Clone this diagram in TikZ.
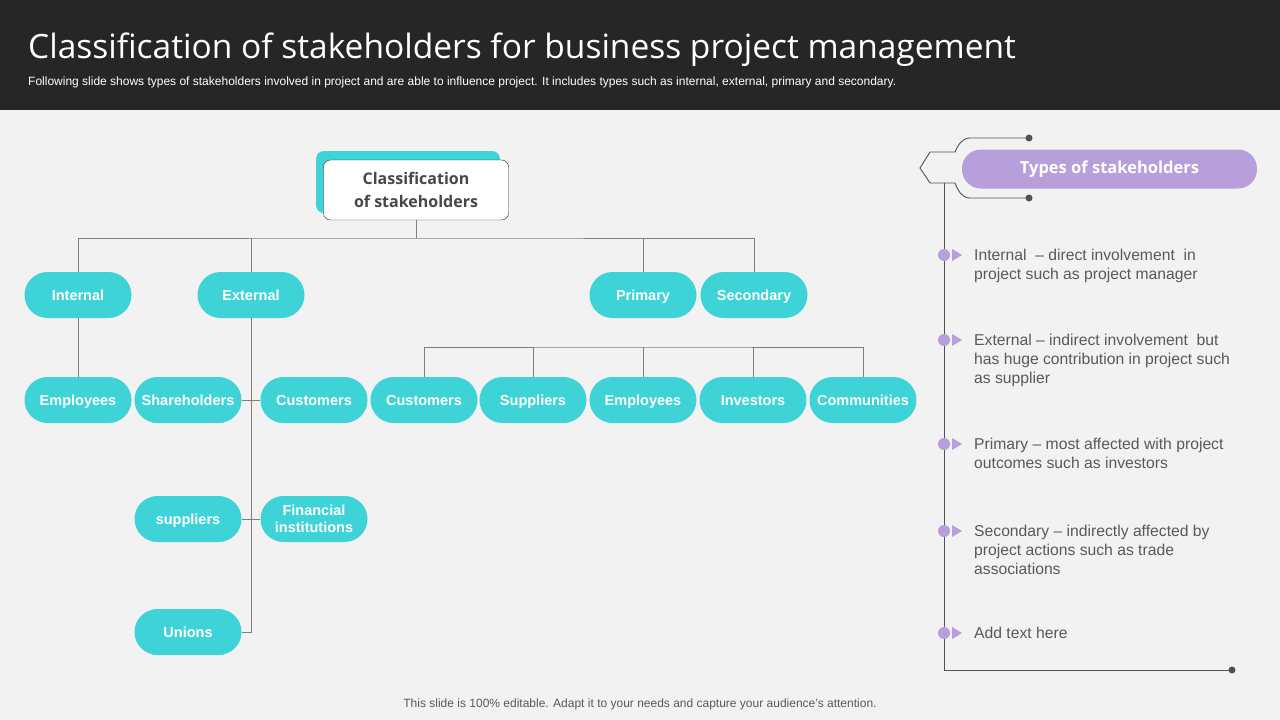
\documentclass[tikz,border=0pt]{standalone}
\usepackage{fontspec}
\setmainfont{Liberation Sans}
\newfontfamily\headfont{Open Sans}
\usetikzlibrary{positioning, arrows.meta}

\definecolor{teal1}{HTML}{3ED3D7}
\definecolor{lilac}{HTML}{B69FDA}
\definecolor{bgray}{HTML}{F2F2F2}
\definecolor{dark}{HTML}{262626}
\definecolor{txtgray}{HTML}{595959}
\definecolor{linegray}{HTML}{7F7F7F}

\begin{document}
\begin{tikzpicture}[x=1pt, y=-1pt,
    pill/.style={fill=teal1, text=white, rounded corners=23pt, minimum width=107pt, minimum height=46pt,
      inner sep=1pt, align=center, font=\fontsize{14.5}{17}\selectfont\bfseries},
    pillone/.style={pill, text height=10.5pt, text depth=0.5pt},
    link/.style={draw=linegray, line width=0.8pt},
    bullettext/.style={anchor=north west, align=left, text=txtgray, inner sep=0pt,
      font=\fontsize{15.7}{19}\selectfont}]
    % background and header
    \fill[bgray] (0,0) rectangle (1280,720);
    \fill[dark] (0,0) rectangle (1280,110);
    \useasboundingbox (0,0) rectangle (1280,720);
    \node[anchor=base west, text=white, inner sep=0pt, font=\headfont\fontsize{33.5}{38}\selectfont] (title) at (28,58)
      {Classification of stakeholders for business project management};
    \node[anchor=base west, text=white, inner sep=0pt, font=\fontsize{12}{14}\selectfont] (sub) at (28,85)
      {Following slide shows types of stakeholders involved in project and are able to influence project. It includes types such as internal, external, primary and secondary.};

    % root
    \fill[teal1, rounded corners=8pt] (316,151) rectangle (500,213);
    \node[draw=dark, fill=white, rounded corners=7pt, minimum width=185pt, minimum height=60pt, align=center,
      text=dark!85, font=\headfont\fontsize{16}{23}\selectfont\bfseries] (root) at (416,190)
      {Classification\\of stakeholders};

    % first level
    \node[pillone] (int) at (78,295) {Internal};
    \node[pillone] (ext) at (251,295) {External};
    \node[pillone] (pri) at (643,295) {Primary};
    \node[pillone] (sec) at (754,295) {Secondary};

    % second level
    \node[pillone] (emp1) at (78,400) {Employees};
    \node[pillone] (sha) at (188,400) {Shareholders};
    \node[pillone] (cus1) at (314,400) {Customers};
    \node[pillone] (sup1) at (188,519) {suppliers};
    \node[pill] (fin) at (314,519) {Financial\\institutions};
    \node[pillone] (uni) at (188,632) {Unions};
    \node[pillone] (cus2) at (424,400) {Customers};
    \node[pillone] (sup2) at (533,400) {Suppliers};
    \node[pillone] (emp2) at (643,400) {Employees};
    \node[pillone] (inv) at (753,400) {Investors};
    \node[pillone] (com) at (863,400) {Communities};

    % connectors
    \coordinate (bar) at (416,238);
    \draw[link] (root.south) -- (bar);
    \draw[link] (int.north) |- (bar) -| (sec.north);
    \draw[link] (ext.north) -- (ext.north |- bar);
    \draw[link] (pri.north) -- (pri.north |- bar);
    \draw[link] (int) -- (emp1);
    \coordinate (trunk) at (251,632);
    \draw[link] (ext.south) -- (trunk) -- (uni.east);
    \draw[link] (sha) -- (cus1);
    \draw[link] (sup1) -- (fin);
    \coordinate (bar2) at (643,347);
    \draw[link] (cus2.north) |- (bar2) -| (com.north);
    \foreach \n in {sup2, emp2, inv}
      \draw[link] (\n.north) -- (\n.north |- bar2);

    % right panel
    \node[fill=lilac, text=white, rounded corners=19pt, minimum width=295pt, minimum height=39pt,
      font=\headfont\fontsize{16.5}{20}\selectfont\bfseries] (types) at (1109.5,169) {Types of stakeholders};
    \coordinate (dtop) at (1029,138);
    \coordinate (dbot) at (1029,198);
    \draw[dark!80, line width=0.9pt] (dtop) -- (970,138) .. controls (962,138) and (958,145) .. (955,152) -- (930,152)
      -- (920,168) -- (930,183) -- (955,183) .. controls (958,191) and (962,198) .. (970,198) -- (dbot);
    \fill[dark!80] (dtop) circle (3.5pt) (dbot) circle (3.5pt);
    \coordinate (vtop) at (944,183);
    \coordinate (vbot) at (944,670);
    \coordinate (vend) at (1232,670);
    \draw[dark!80, line width=0.9pt] (vtop) -- (vbot) -- (vend);
    \fill[dark!80] (vend) circle (3.5pt);

    \foreach \y/\txt [count=\i] in {
        255/{Internal \ -- direct involvement \ in\\project such as project manager},
        340/{External -- indirect involvement \ but\\has huge contribution in project such\\as supplier},
        444/{Primary -- most affected with project\\outcomes such as investors},
        531/{Secondary -- indirectly affected by\\project actions such as trade\\associations},
        633/{Add text here}} {
      \fill[lilac] (944,\y) circle (6pt);
      \fill[lilac] (952,\y-6) -- (962,\y) -- (952,\y+6) -- cycle;
      \node[bullettext] (b\i) at (974,\y-6) {\txt};
    }

    % footer
    \node[text=txtgray, font=\fontsize{12}{14}\selectfont] (foot) at (640,704)
      {This slide is 100\% editable. Adapt it to your needs and capture your audience's attention.};
  \end{tikzpicture}
\end{document}
